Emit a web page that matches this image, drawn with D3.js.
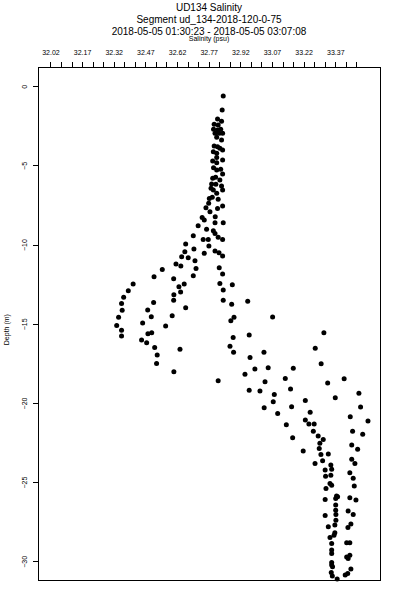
<!DOCTYPE html>
<html>
<head>
<meta charset="utf-8">
<script src="https://cdn.jsdelivr.net/npm/d3@7"></script>
<style>
  body { margin: 0; background: #fff; }
  text { font-family: "Liberation Sans", Arial, Helvetica, sans-serif; fill: #000; }
  line, rect { shape-rendering: crispEdges; }
</style>
</head>
<body>
<div class="chart"></div>
<script>
var titleLines = [
    "UD134 Salinity",
    "Segment ud_134-2018-120-0-75",
    "2018-05-05 01:30:23 - 2018-05-05 03:07:08"
];

// salinity (psu) and depth (m) of each sample
var salinity = [
    32.839, 32.834, 32.812, 32.831, 32.796, 32.815, 32.793, 32.812, 32.827, 32.800,
    32.820, 32.836, 32.808, 32.831, 32.796, 32.812, 32.823, 32.836, 32.792, 32.808,
    32.808, 32.836, 32.789, 32.808, 32.793, 32.808, 32.827, 32.836, 32.789, 32.803,
    32.823, 32.784, 32.804, 32.831, 32.781, 32.792, 32.836, 32.808, 32.773, 32.787,
    32.815, 32.770, 32.836, 32.812, 32.757, 32.776, 32.801, 32.739, 32.749, 32.800,
    32.839, 32.720, 32.760, 32.792, 32.800, 32.697, 32.744, 32.768, 32.815, 32.836,
    32.661, 32.771, 32.700, 32.657, 32.749, 32.800, 32.819, 32.836, 32.642, 32.673,
    32.705, 32.615, 32.638, 32.710, 32.820, 32.550, 32.836, 32.697, 32.511, 32.604,
    32.654, 32.412, 32.823, 32.882, 32.629, 32.839, 32.389, 32.637, 32.605, 32.367,
    32.604, 32.839, 32.955, 32.509, 32.357, 32.879, 32.661, 32.481, 32.360, 32.597,
    32.498, 32.343, 32.890, 33.073, 32.875, 32.457, 32.334, 32.566, 32.357, 32.500,
    32.482, 33.316, 32.962, 32.357, 32.886, 32.452, 32.476, 32.871, 32.514, 33.275,
    32.634, 33.032, 32.888, 32.526, 32.966, 32.523, 33.303, 33.052, 33.171, 32.989,
    32.605, 32.942, 33.133, 33.412, 32.815, 33.037, 33.334, 33.158, 32.962, 33.013,
    33.482, 33.081, 33.370, 33.228, 33.076, 33.163, 33.033, 33.490, 33.251, 33.097,
    33.441, 33.228, 33.525, 33.245, 33.270, 33.138, 33.266, 33.452, 33.500, 33.289,
    33.168, 33.313, 33.297, 33.448, 33.294, 33.476, 33.218, 33.337, 33.302, 33.448,
    33.310, 33.274, 33.463, 33.349, 33.353, 33.322, 33.439, 33.349, 33.324, 33.455,
    33.345, 33.353, 33.460, 33.326, 33.376, 33.381, 33.439, 33.372, 33.322, 33.468,
    33.372, 33.372, 33.431, 33.373, 33.455, 33.322, 33.373, 33.444, 33.368, 33.337,
    33.430, 33.368, 33.364, 33.345, 33.424, 33.439, 33.353, 33.353, 33.353, 33.439,
    33.424, 33.431, 33.353, 33.353, 33.357, 33.444, 33.351, 33.429, 33.417, 33.356,
    33.379
];
var depth = [
    -0.61, -1.50, -2.07, -2.21, -2.40, -2.45, -2.72, -2.76, -2.72, -2.97,
    -2.97, -2.97, -3.22, -3.39, -3.77, -3.82, -3.92, -4.02, -4.13, -4.23,
    -4.49, -4.66, -4.72, -4.83, -5.14, -5.29, -5.24, -5.54, -5.81, -5.75,
    -5.92, -6.17, -6.19, -6.30, -6.44, -6.55, -6.55, -6.76, -7.08, -7.01,
    -7.14, -7.39, -7.56, -7.71, -7.67, -7.92, -8.24, -8.28, -8.45, -8.62,
    -8.62, -8.81, -9.03, -9.12, -9.29, -9.44, -9.67, -9.67, -9.54, -9.67,
    -9.96, -10.09, -10.28, -10.45, -10.55, -10.40, -10.51, -10.72, -10.76, -10.83,
    -11.02, -11.23, -11.35, -11.51, -11.46, -11.57, -11.86, -11.97, -12.03, -12.15,
    -12.49, -12.49, -12.45, -12.53, -12.66, -12.87, -12.91, -12.99, -13.17, -13.33,
    -13.52, -13.52, -13.58, -13.65, -13.71, -13.77, -13.99, -14.13, -14.15, -14.49,
    -14.56, -14.59, -14.59, -14.57, -14.81, -14.95, -15.10, -15.14, -15.40, -15.57,
    -15.63, -15.57, -15.71, -15.77, -15.86, -16.03, -16.20, -16.41, -16.49, -16.55,
    -16.61, -16.79, -16.80, -16.97, -17.12, -17.50, -17.52, -17.78, -17.81, -17.86,
    -18.03, -18.19, -18.45, -18.47, -18.60, -18.66, -18.74, -19.12, -19.19, -19.25,
    -19.39, -19.46, -19.67, -19.84, -19.92, -20.24, -20.30, -20.26, -20.58, -20.66,
    -20.87, -21.08, -21.14, -21.33, -21.33, -21.38, -21.78, -21.78, -21.97, -22.09,
    -22.20, -22.31, -22.55, -22.66, -22.87, -22.93, -23.04, -23.23, -23.25, -23.56,
    -23.65, -23.82, -23.82, -23.92, -24.19, -24.24, -24.41, -24.57, -24.62, -24.76,
    -25.08, -25.19, -25.25, -25.40, -25.88, -25.93, -25.99, -26.03, -26.09, -26.13,
    -26.45, -26.77, -26.83, -27.04, -27.04, -27.10, -27.40, -27.65, -27.71, -27.82,
    -27.86, -28.20, -28.35, -28.49, -28.83, -28.83, -28.87, -29.29, -29.50, -29.61,
    -29.72, -29.82, -30.07, -30.24, -30.35, -30.49, -30.70, -30.77, -30.87, -30.92,
    -31.11
];

var salTicks = d3.range(0, 30).map(function(i) { return +(32.02 + i * 0.05).toFixed(2); });
var salLabels = ["32.02", "32.17", "32.32", "32.47", "32.62", "32.77", "32.92", "33.07", "33.22", "33.37"];
var depthTicks = [0, -5, -10, -15, -20, -25, -30];

var width = 400,
    height = 600,
    plotLeft = 38, plotRight = 380, plotTop = 67.3, plotBottom = 580;

var x = d3.scaleLinear().domain([31.961, 33.582]).range([plotLeft, plotRight]);
var y = d3.scaleLinear().domain([1.2, -31.18]).range([plotTop, plotBottom]);

var svg = d3.select(".chart").append("svg")
    .attr("width", width)
    .attr("height", height);

svg.selectAll(".title")
    .data(titleLines)
    .enter().append("text")
    .attr("class", "title")
    .attr("x", (plotLeft + plotRight) / 2)
    .attr("y", function(d, i) { return 10.5 + i * 12; })
    .attr("text-anchor", "middle")
    .attr("font-size", "10px")
    .text(function(d) { return d; });

svg.append("text")
    .attr("x", (plotLeft + plotRight) / 2)
    .attr("y", 41)
    .attr("text-anchor", "middle")
    .attr("font-size", "7px")
    .text("Salinity (psu)");

// top axis: minor ticks every 0.05, labels every 0.15
var xAxis = d3.axisTop(x)
    .tickValues(salTicks)
    .tickSize(5.5)
    .tickPadding(7)
    .tickFormat(function(d) {
        var s = d.toFixed(2);
        return salLabels.indexOf(s) >= 0 ? s : "";
    });

var gx = svg.append("g")
    .attr("transform", "translate(0," + plotTop + ")")
    .call(xAxis);
gx.select(".domain").remove();
gx.selectAll("text").attr("font-size", "7px").attr("font-family", null).attr("fill", "#000");
gx.selectAll("line").attr("stroke", "#000");
gx.append("line")
    .attr("x1", x(salTicks[0])).attr("x2", x(salTicks[salTicks.length - 1]))
    .attr("stroke", "#000");

var yAxis = d3.axisLeft(y)
    .tickValues(depthTicks)
    .tickSize(5.3)
    .tickFormat(d3.format("d"));

var gy = svg.append("g")
    .attr("transform", "translate(" + plotLeft + ",0)")
    .call(yAxis);
gy.select(".domain").remove();
gy.selectAll("line").attr("stroke", "#000");
gy.selectAll("text")
    .attr("font-size", "7px")
    .attr("font-family", null)
    .attr("fill", "#000")
    .attr("x", null).attr("dy", null)
    .attr("text-anchor", "middle")
    .attr("transform", "translate(-11.5,0) rotate(-90)");

svg.append("text")
    .attr("transform", "translate(9," + ((plotTop + plotBottom) / 2 + 6) + ") rotate(-90)")
    .attr("text-anchor", "middle")
    .attr("font-size", "7px")
    .text("Depth (m)");

svg.append("rect")
    .attr("x", plotLeft).attr("y", plotTop)
    .attr("width", plotRight - plotLeft).attr("height", plotBottom - plotTop)
    .attr("fill", "none")
    .attr("stroke", "#000");

var pts = salinity.map(function(s, i) { return {sal: s, depth: depth[i]}; });

svg.selectAll(".pt")
    .data(pts)
    .enter().append("circle")
    .attr("class", "pt")
    .attr("cx", function(d) { return x(d.sal); })
    .attr("cy", function(d) { return y(d.depth); })
    .attr("r", 2.5)
    .attr("fill", "#000");
</script>
</body>
</html>
